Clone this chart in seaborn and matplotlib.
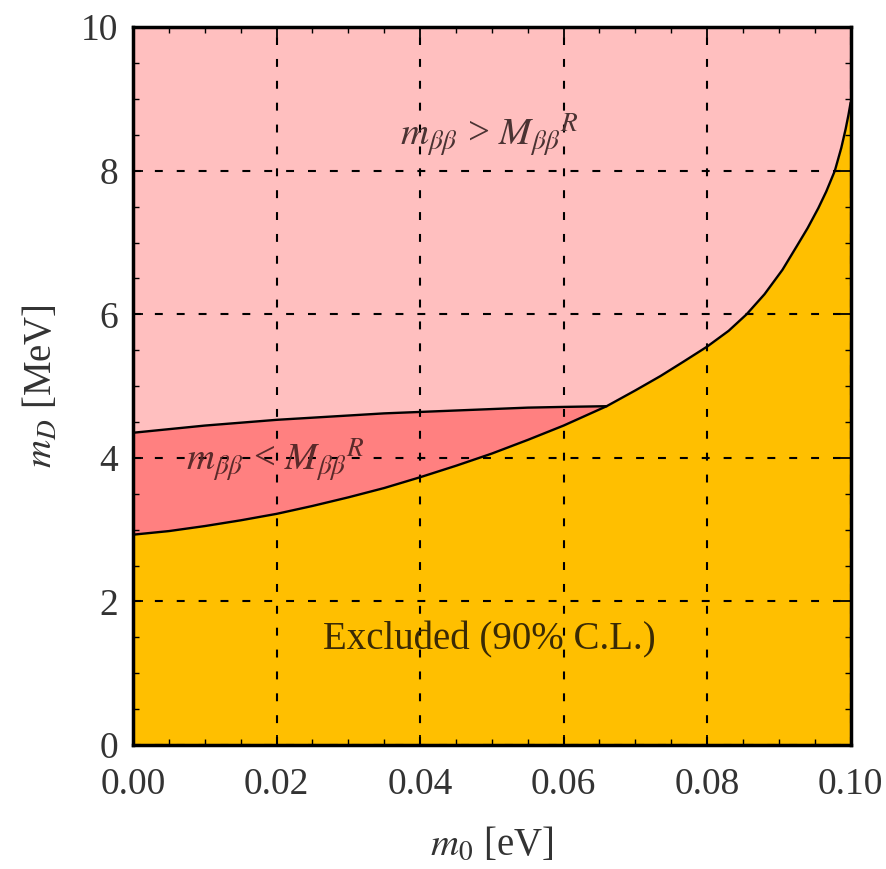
import matplotlib
matplotlib.use("Agg")
import matplotlib.pyplot as plt
import seaborn as sns
import numpy as np
import pandas as pd
from matplotlib.ticker import MultipleLocator, FormatStrFormatter

# ---- data ----
m0_lower = [0.0, 0.005, 0.01, 0.015, 0.02, 0.025, 0.03, 0.035, 0.04, 0.045, 0.05,
            0.055, 0.06, 0.066, 0.07, 0.0735, 0.0767, 0.08, 0.083, 0.0855, 0.088,
            0.0905, 0.0925, 0.094, 0.0955, 0.0966, 0.0978, 0.0987, 0.0993,
            0.0997, 0.1]
mD_lower = [2.93, 2.98, 3.05, 3.13, 3.22, 3.33, 3.45, 3.58, 3.73, 3.89, 4.06,
            4.25, 4.45, 4.72, 4.94, 5.14, 5.34, 5.55, 5.77, 6.00, 6.28,
            6.62, 6.95, 7.20, 7.48, 7.71, 8.00, 8.32, 8.58,
            8.78, 8.95]
m0_upper = m0_lower[:14]
mD_upper = [4.35, 4.40, 4.45, 4.49, 4.53, 4.56, 4.59, 4.62, 4.64, 4.66, 4.68,
            4.70, 4.71, 4.72]

x_ticks = [0.00, 0.02, 0.04, 0.06, 0.08, 0.10]
y_ticks = [0, 2, 4, 6, 8, 10]

label_upper = r"$m_{\beta\beta}$ > $M_{\beta\beta}{}^R$"
label_lower = r"$m_{\beta\beta}$ < $M_{\beta\beta}{}^R$"
label_excl = "Excluded (90% C.L.)"
xlabel = r"$m_0$ [eV]"
ylabel = r"$m_D$ [MeV]"

col_pink = "#FFBFBF"
col_red = "#FF8080"
col_orange = "#FFBF00"

sns.set_theme(style="ticks")
plt.rcParams["font.family"] = ["Liberation Serif", "DejaVu Serif"]
plt.rcParams["mathtext.fontset"] = "stix"

fig = plt.figure(figsize=(8.87, 8.69), dpi=100)
ax = fig.add_axes([0.150, 0.1427, 0.809, 0.826])

low = pd.DataFrame({"m0": m0_lower, "mD": mD_lower})
up = pd.DataFrame({"m0": m0_upper, "mD": mD_upper})

ax.fill_between(low["m0"], low["mD"], 10, color=col_pink, lw=0, zorder=1)
ax.fill_between(low["m0"], 0, low["mD"], color=col_orange, lw=0, zorder=1)
ax.fill_between(up["m0"], low["mD"][:len(up)], up["mD"], color=col_red, lw=0, zorder=1)

sns.lineplot(data=low, x="m0", y="mD", color="black", lw=1.7, ax=ax,
             estimator=None, sort=False, zorder=3)
sns.lineplot(data=up, x="m0", y="mD", color="black", lw=1.7, ax=ax,
             estimator=None, sort=False, zorder=3)

ax.set_xlim(0, 0.1)
ax.set_ylim(0, 10)
ax.set_xticks(x_ticks)
ax.set_yticks(y_ticks)
ax.xaxis.set_major_formatter(FormatStrFormatter("%.2f"))
ax.xaxis.set_minor_locator(MultipleLocator(0.005))
ax.yaxis.set_minor_locator(MultipleLocator(0.5))
ax.tick_params(which="both", direction="in", top=True, right=True,
               labelsize=27, colors="black")
ax.tick_params(axis="x", which="both", pad=16)
ax.tick_params(axis="y", which="both", pad=11)
ax.tick_params(which="major", length=7, width=1.3)
ax.tick_params(which="minor", length=4, width=1.0)
for lab in ax.get_xticklabels() + ax.get_yticklabels():
    lab.set_color("#333333")

ax.set_axisbelow(False)
ax.grid(True, which="major", color="black", lw=1.5, linestyle=(0, (3.8, 6.7)), zorder=5)
for s in ax.spines.values():
    s.set_linewidth(2.5)
    s.set_color("black")
    s.set_zorder(6)

ax.set_xlabel(xlabel, fontsize=28, color="#333333", labelpad=18)
ax.set_ylabel(ylabel, fontsize=28, color="#333333", labelpad=14)

ax.text(0.0497, 8.5, label_upper, fontsize=28, color="#4a3333",
        ha="center", va="center", zorder=4)
ax.text(0.0198, 3.97, label_lower, fontsize=28, color="#5a2a2a",
        ha="center", va="center", zorder=4)
ax.text(0.0497, 1.46, label_excl, fontsize=28, color="#3a2a05",
        ha="center", va="center", zorder=4)

fig.savefig("out.png", dpi=100)
